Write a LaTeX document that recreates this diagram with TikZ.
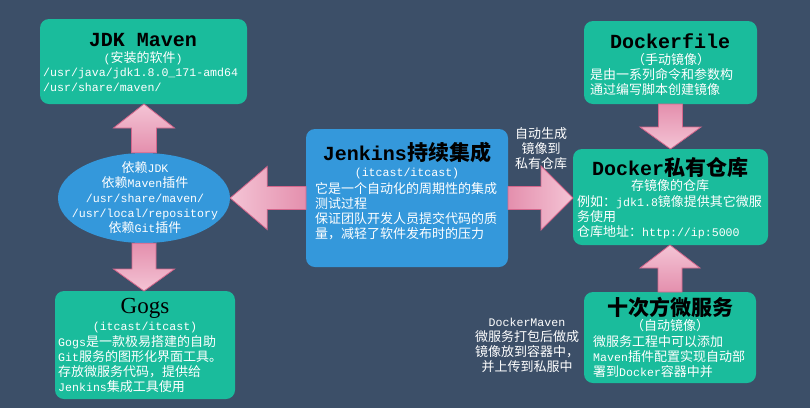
\documentclass[tikz,border=0pt]{standalone}
\usepackage{fontspec}
\setmainfont{Noto Sans CJK SC}
\newfontfamily\monof{Liberation Mono}
\newfontfamily\serf{Liberation Serif}
\usetikzlibrary{calc,shapes.geometric}
\definecolor{bgc}{HTML}{3C4F68}
\definecolor{tealbox}{HTML}{1ABC9C}
\definecolor{bluebox}{HTML}{3498DB}
\definecolor{pinkL}{HTML}{F4C4D5}
\definecolor{pinkM}{HTML}{E48FAD}
\definecolor{pinkB}{HTML}{D4668C}
\newcommand\mlat[1]{{\monof\fontsize{11.6}{15}\selectfont #1}}
\newcommand\mtit[1]{{\monof\bfseries\fontsize{20}{24}\selectfont #1}}
% vertical fat arrow: tail, tip node, shaft half, head half, head length, sign, shading
\newcommand\varrow[7]{%
 \path[fatarrow,#7] let \p1=(#1), \p2=(#1 |- #2) in
  (\x1-#3pt,\y1) -- (\x1-#3pt,\y2#6#5pt) -- (\x1-#4pt,\y2#6#5pt) -- (\p2)
  -- (\x1+#4pt,\y2#6#5pt) -- (\x1+#3pt,\y2#6#5pt) -- (\x1+#3pt,\y1) -- cycle;}
\newcommand\harrow[7]{%
 \path[fatarrow,#7] let \p1=(#1), \p2=(#1 -| #2) in
  (\x1,\y1-#3pt) -- (\x2#6#5pt,\y1-#3pt) -- (\x2#6#5pt,\y1-#4pt) -- (\p2)
  -- (\x2#6#5pt,\y1+#4pt) -- (\x2#6#5pt,\y1+#3pt) -- (\x1,\y1+#3pt) -- cycle;}
\tikzset{
  tbox/.style={fill=tealbox, rounded corners=9pt, inner sep=0pt, outer sep=0pt},
  bbox/.style={fill=bluebox, rounded corners=9pt, inner sep=0pt, outer sep=0pt},
  ttl/.style={text=black, font=\bfseries\fontsize{21}{25}\selectfont, inner sep=0pt},
  sub/.style={text=white, font=\fontsize{13}{15}\selectfont, inner sep=0pt},
  body/.style={text=white, font=\fontsize{13}{15}\selectfont, align=left, inner sep=0pt, anchor=north west, text width=#1},
  ctext/.style={text=white, font=\fontsize{13}{15}\selectfont, align=center, inner sep=0pt},
  fatarrow/.style={draw=pinkB, line width=0.8pt, line join=miter},
}
\begin{document}
\begin{tikzpicture}[x=1pt,y=-1pt]
\useasboundingbox (0,0) rectangle (810,408);
\fill[bgc] (0,0) rectangle (810,408);

% boxes
\node[tbox, minimum width=207pt, minimum height=85pt] (jdk) at (143.5,61.5) {};
\node[tbox, minimum width=180pt, minimum height=108pt] (gogs) at (145,345) {};
\node[bbox, minimum width=202pt, minimum height=138pt] (jen) at (407,198) {};
\node[tbox, minimum width=173pt, minimum height=83pt] (dfile) at (670.5,62.5) {};
\node[tbox, minimum width=195pt, minimum height=96pt] (reg) at (670.5,197) {};
\node[tbox, minimum width=172pt, minimum height=91pt] (svc) at (670,337.5) {};
\node[ellipse, fill=bluebox, inner sep=0pt, minimum width=172pt, minimum height=90pt] (ell) at (144,198) {};

% arrows
\varrow{ell.north}{jdk.south}{12.5}{30.5}{24}{-}{top color=pinkL, bottom color=pinkM}
\varrow{ell.south}{gogs.north}{12}{30.5}{22}{+}{top color=pinkM, bottom color=pinkL}
\harrow{jen.west}{ell.east}{11.5}{31.5}{37}{+}{left color=pinkL, right color=pinkM}
\harrow{jen.east}{reg.west}{11.5}{32}{32}{-}{left color=pinkM, right color=pinkL}
\varrow{dfile.south}{reg.north}{12}{30.5}{22}{+}{top color=pinkM, bottom color=pinkL}
\varrow{svc.north}{reg.south}{12}{30}{23}{-}{top color=pinkL, bottom color=pinkM}

% JDK Maven
\node[ttl] (jdkt) at (143,40) {\mtit{JDK Maven}};
\node[sub] (jdks) at (143,58) {\mlat{(}安装的软件\mlat{)}};
\node[body=205pt] (jdkb) at (43,68) {\mlat{/usr/java/jdk1.8.0\_171-amd64}\\\mlat{/usr/share/maven/}};

% ellipse text
\node[ctext] (ellt) at (145,198) {依赖\mlat{JDK}\\依赖\mlat{Maven}插件\\\mlat{/usr/share/maven/}\\\mlat{/usr/local/repository}\\依赖\mlat{Git}插件};

% Gogs
\node[ttl, font=\serf\fontsize{23}{27}\selectfont] (gogst) at (145,308) {Gogs};
\node[sub] (gogss) at (145,327) {\mlat{(itcast/itcast)}};
\node[body=180pt] (gogsb) at (58,335) {\mlat{Gogs}是一款极易搭建的自助\\\mlat{Git}服务的图形化界面工具。\\存放微服务代码，提供给\\\mlat{Jenkins}集成工具使用};

% Jenkins
\node[ttl] (jent) at (407,152) {\mtit{Jenkins}持续集成};
\node[sub] (jens) at (407,173) {\mlat{(itcast/itcast)}};
\node[body=200pt] (jenb) at (315,182) {它是一个自动化的周期性的集成\\测试过程\\保证团队开发人员提交代码的质\\量，减轻了软件发布时的压力};

% label on right arrow
\node[ctext] (autol) at (541,149) {自动生成\\镜像到\\私有仓库};

% Dockerfile
\node[ttl] (dft) at (670,41) {\mtit{Dockerfile}};
\node[sub] (dfs) at (671,60) {（手动镜像）};
\node[body=170pt] (dfb) at (590,68) {是由一系列命令和参数构\\通过编写脚本创建镜像};

% registry
\node[ttl] (regt) at (670,167) {\mtit{Docker}私有仓库};
\node[sub] (regs) at (670,186) {存镜像的仓库};
\node[body=195pt] (regb) at (577,195) {例如：\mlat{jdk1.8}镜像提供其它微服\\务使用\\仓库地址：\mlat{http://ip:5000}};

% microservice
\node[ttl] (svct) at (670,307) {十次方微服务};
\node[sub] (svcs) at (670,326) {（自动镜像）};
\node[body=170pt] (svcb) at (593,335) {微服务工程中可以添加\\\mlat{Maven}插件配置实现自动部\\署到\mlat{Docker}容器中并};

% DockerMaven label
\node[ctext] (dml) at (527,345.5) {\mlat{DockerMaven}\\微服务打包后做成\\镜像放到容器中，\\并上传到私服中};
\end{tikzpicture}
\end{document}
